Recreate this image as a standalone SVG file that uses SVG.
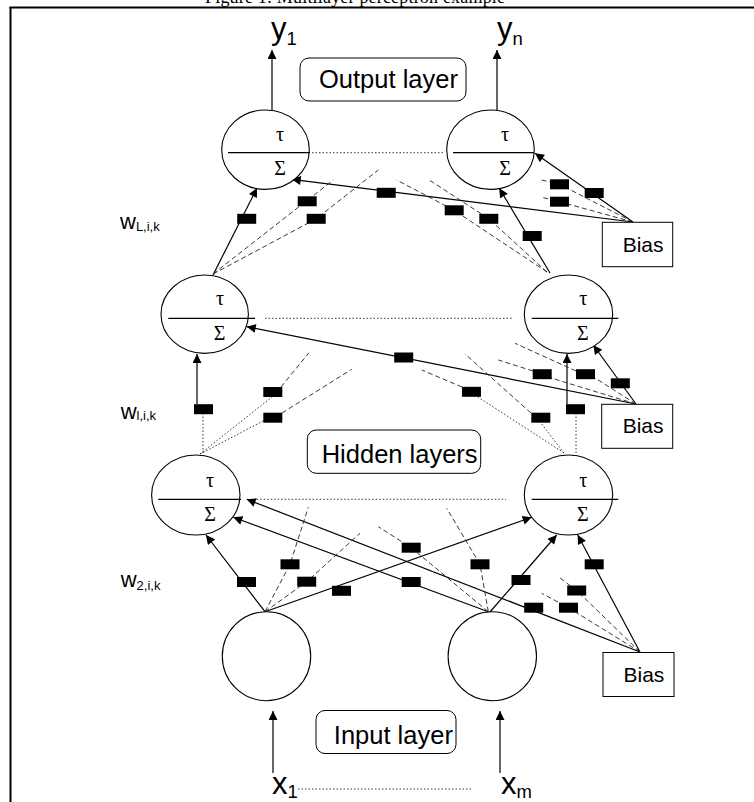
<svg xmlns="http://www.w3.org/2000/svg" width="754" height="802" viewBox="0 0 754 802">
<style>
.sol{stroke:#000;stroke-width:1.2;fill:none}
.dsh{stroke:#222;stroke-width:0.9;stroke-dasharray:5 3;fill:none}
.dot{stroke:#222;stroke-width:0.9;stroke-dasharray:1.5 2;fill:none}
.nd{stroke:#000;stroke-width:1.1;fill:#fff}
.ln{stroke:#000;stroke-width:1.2}
.wt{fill:#000}
.gr{font-family:"Liberation Serif","Times New Roman",serif;font-size:20px;text-anchor:middle;fill:#000}
.lb{font-family:"Liberation Sans",Arial,sans-serif;fill:#000}
.box{fill:#fff;stroke:#000;stroke-width:1}
</style>
<defs>
<marker id="ah" viewBox="0 0 10 10" refX="10" refY="5" markerWidth="11" markerHeight="9" markerUnits="userSpaceOnUse" orient="auto"><path d="M0,0 L10,5 L0,10 z" fill="#000"/></marker>
</defs>
<rect width="754" height="802" fill="#fff"/>
<text x="205" y="2.5" font-family="Liberation Serif,serif" font-size="18" textLength="300" fill="#000">Figure 1: Multilayer perceptron example</text>
<g id="frame" stroke="#000" stroke-width="2">
<line x1="9.5" y1="7.5" x2="754" y2="7.5"/>
<line x1="10.5" y1="7" x2="10.5" y2="802"/>
</g>

<g id="connectors">
<!-- top -->
<line class="sol" x1="272" y1="110" x2="272" y2="50" marker-end="url(#ah)"/>
<line class="sol" x1="497" y1="110" x2="497" y2="50" marker-end="url(#ah)"/>
<line class="sol" x1="213" y1="275" x2="257" y2="188" marker-end="url(#ah)"/>
<line class="sol" x1="550" y1="273" x2="499.3" y2="188.3" marker-end="url(#ah)"/>
<line class="sol" x1="633" y1="222" x2="291.7" y2="179.3" marker-end="url(#ah)"/>
<line class="sol" x1="633" y1="222" x2="535" y2="153.3" marker-end="url(#ah)"/>
<line class="dsh" x1="213" y1="274" x2="333.3" y2="180"/>
<polyline class="dsh" points="213,274 316.2,218.8 378.3,170"/>
<polyline class="dsh" points="547,272 454.2,210.3 396.7,180"/>
<polyline class="dsh" points="547,272 488.8,218.8 429.3,180"/>
<polyline class="dsh" points="633,222 559.5,184.3 541.7,180"/>
<polyline class="dsh" points="633,222 559.5,201.7 541.7,197.3"/>
<line class="dot" x1="312" y1="152.7" x2="443" y2="152.7"/>
<!-- middle -->
<line class="dot" x1="203" y1="453" x2="203" y2="414"/>
<line class="sol" x1="197" y1="404" x2="197" y2="354" marker-end="url(#ah)"/>
<line class="dot" x1="576" y1="453" x2="576" y2="414"/>
<line class="sol" x1="567" y1="404" x2="567" y2="354" marker-end="url(#ah)"/>
<line class="sol" x1="636" y1="404" x2="246.7" y2="326.7" marker-end="url(#ah)"/>
<line class="sol" x1="636" y1="404" x2="593.3" y2="345" marker-end="url(#ah)"/>
<line class="dot" x1="200" y1="454" x2="272" y2="397"/>
<line class="dsh" x1="281" y1="387" x2="309" y2="352.7"/>
<line class="dot" x1="200" y1="454" x2="265" y2="420"/>
<line class="dsh" x1="282" y1="413" x2="351.7" y2="369.3"/>
<line class="dot" x1="564" y1="453" x2="541" y2="423"/>
<line class="dsh" x1="531" y1="413" x2="465" y2="354"/>
<line class="dot" x1="564" y1="453" x2="478" y2="397"/>
<line class="dsh" x1="462" y1="387" x2="421.7" y2="370"/>
<line class="dsh" x1="636" y1="404" x2="551" y2="378"/>
<line class="dsh" x1="533" y1="371" x2="498.3" y2="360"/>
<line class="dsh" x1="636" y1="404" x2="595" y2="378"/>
<line class="dsh" x1="576" y1="371" x2="515" y2="343.3"/>
<line class="dot" x1="265" y1="318.3" x2="513" y2="318.3"/>
<!-- bottom -->
<line class="sol" x1="265" y1="611.7" x2="206" y2="535" marker-end="url(#ah)"/>
<line class="sol" x1="265" y1="611.7" x2="531.7" y2="517.3" marker-end="url(#ah)"/>
<line class="sol" x1="490" y1="612" x2="556.7" y2="535" marker-end="url(#ah)"/>
<line class="sol" x1="488.3" y1="611.7" x2="233.3" y2="517.3" marker-end="url(#ah)"/>
<line class="sol" x1="640" y1="652" x2="246.7" y2="499.3" marker-end="url(#ah)"/>
<line class="sol" x1="640" y1="652" x2="577.7" y2="535" marker-end="url(#ah)"/>
<polyline class="dsh" points="265,611.7 290,564.3 308.3,507.3"/>
<polyline class="dsh" points="265,611.7 306.7,581.7 360,533.3"/>
<polyline class="dsh" points="488.3,611.7 480,564.3 446.7,508.3"/>
<polyline class="dsh" points="488.3,611.7 411.2,547.7 378.3,526.7"/>
<polyline class="dsh" points="640,652 576.7,590.5 558.3,576.7"/>
<polyline class="dsh" points="640,652 568.5,607.7 541.7,593.3"/>
<line class="dot" x1="256.7" y1="499.3" x2="506" y2="499.3"/>
<line class="sol" x1="273" y1="773" x2="273" y2="711" marker-end="url(#ah)"/>
<line class="sol" x1="500" y1="773" x2="500" y2="711" marker-end="url(#ah)"/>
<line class="dot" x1="298" y1="789" x2="471" y2="789"/>
</g>

<g id="weights" class="wt">
<rect x="237.2" y="213.8" width="19" height="10"/>
<rect x="297.7" y="196.3" width="19" height="10"/>
<rect x="306.7" y="213.8" width="19" height="10"/>
<rect x="376.7" y="187.8" width="19" height="10"/>
<rect x="444.7" y="205.3" width="19" height="10"/>
<rect x="479.3" y="213.8" width="19" height="10"/>
<rect x="522.7" y="231" width="19" height="10"/>
<rect x="550" y="179.3" width="19" height="10"/>
<rect x="550" y="196.7" width="19" height="10"/>
<rect x="584.7" y="188" width="19" height="10"/>

<rect x="194" y="404.2" width="19" height="10"/>
<rect x="263.3" y="387" width="19" height="10"/>
<rect x="263.3" y="412.7" width="19" height="10"/>
<rect x="394.2" y="352.5" width="19" height="10"/>
<rect x="462" y="386.8" width="19" height="10"/>
<rect x="532.7" y="369.2" width="19" height="10"/>
<rect x="576" y="369.2" width="19" height="10"/>
<rect x="610.8" y="378.3" width="19" height="10"/>
<rect x="531.3" y="412.7" width="19" height="10"/>
<rect x="566" y="404.2" width="19" height="10"/>

<rect x="237" y="577" width="19" height="10"/>
<rect x="280.5" y="559.3" width="19" height="10"/>
<rect x="297.2" y="576.7" width="19" height="10"/>
<rect x="332" y="585.8" width="19" height="10"/>
<rect x="401.7" y="542.7" width="19" height="10"/>
<rect x="401.7" y="577" width="19" height="10"/>
<rect x="470.5" y="559.3" width="19" height="10"/>
<rect x="511.5" y="575" width="19" height="10"/>
<rect x="524.2" y="602.7" width="19" height="10"/>
<rect x="559" y="602.7" width="19" height="10"/>
<rect x="567.2" y="585.5" width="19" height="10"/>
<rect x="584.7" y="559.3" width="19" height="10"/>
</g>

<g id="out-left">
<ellipse class="nd" cx="265.5" cy="149.7" rx="43.8" ry="39.7"/>
<line class="ln" x1="228" y1="152.7" x2="310" y2="152.7"/>
<text class="gr" x="280" y="140.7">τ</text>
<text class="gr" x="280" y="175">Σ</text>
</g>
<g id="out-right">
<ellipse class="nd" cx="490.5" cy="149.7" rx="43.8" ry="39.7"/>
<line class="ln" x1="453" y1="152.7" x2="534" y2="152.7"/>
<text class="gr" x="505" y="140.7">τ</text>
<text class="gr" x="505" y="175">Σ</text>
</g>
<g id="hid-top-left">
<ellipse class="nd" cx="204.7" cy="314.2" rx="43.7" ry="39.2"/>
<line class="ln" x1="168.3" y1="318.3" x2="255" y2="318.3"/>
<text class="gr" x="220" y="305">τ</text>
<text class="gr" x="219.5" y="340">Σ</text>
</g>
<g id="hid-top-right">
<ellipse class="nd" cx="568.5" cy="314.2" rx="44.2" ry="39.2"/>
<line class="ln" x1="531.7" y1="318.3" x2="618.3" y2="318.3"/>
<text class="gr" x="583.3" y="305">τ</text>
<text class="gr" x="582.7" y="340">Σ</text>
</g>
<g id="hid-bot-left">
<ellipse class="nd" cx="195.8" cy="495" rx="44.2" ry="40"/>
<line class="ln" x1="158.3" y1="499.3" x2="241" y2="499.3"/>
<text class="gr" x="210" y="486.7">τ</text>
<text class="gr" x="210" y="520.7">Σ</text>
</g>
<g id="hid-bot-right">
<ellipse class="nd" cx="568.5" cy="495" rx="44.2" ry="40"/>
<line class="ln" x1="531.7" y1="499.3" x2="618.3" y2="499.3"/>
<text class="gr" x="583.3" y="486.7">τ</text>
<text class="gr" x="582.7" y="520.7">Σ</text>
</g>
<g id="in-left">
<ellipse class="nd" cx="266.5" cy="656.2" rx="44.2" ry="44.5"/>
</g>
<g id="in-right">
<ellipse class="nd" cx="492.3" cy="656.2" rx="44.2" ry="44.5"/>
</g>

<g id="bias1">
<rect class="box" x="602.3" y="222.3" width="70.4" height="44.4"/>
<text class="lb" x="622.7" y="251.7" font-size="21">Bias</text>
</g>
<g id="bias2">
<rect class="box" x="601.7" y="404.3" width="71" height="44"/>
<text class="lb" x="622.7" y="433.3" font-size="21">Bias</text>
</g>
<g id="bias3">
<rect class="box" x="603" y="652.5" width="71" height="44"/>
<text class="lb" x="623.5" y="681.8" font-size="21">Bias</text>
</g>

<g id="output-label">
<rect class="box" x="300" y="58" width="166" height="43" rx="9"/>
<text class="lb" x="319" y="88" font-size="25.5">Output layer</text>
</g>
<g id="hidden-label">
<rect class="box" x="307.3" y="430" width="173.4" height="43.3" rx="9"/>
<text class="lb" x="321.7" y="462.5" font-size="25.5">Hidden layers</text>
</g>
<g id="input-label">
<rect class="box" x="316" y="710.5" width="140" height="43" rx="9"/>
<text class="lb" x="333.8" y="744" font-size="25.5">Input layer</text>
</g>

<g id="y1"><text class="lb" x="271" y="38.5" font-size="31">y<tspan font-size="18.5" dy="6">1</tspan></text></g>
<g id="yn"><text class="lb" x="497" y="38.5" font-size="31">y<tspan font-size="18.5" dy="6">n</tspan></text></g>
<g id="x1"><text class="lb" x="272" y="794" font-size="31">x<tspan font-size="18.5" dy="3.5">1</tspan></text></g>
<g id="xm"><text class="lb" x="501" y="794" font-size="31">x<tspan font-size="18.5" dy="3.5">m</tspan></text></g>
<g id="wL"><text class="lb" x="120" y="229.3" font-size="22">w<tspan font-size="13" dy="1.5">L,i,k</tspan></text></g>
<g id="wl"><text class="lb" x="120.7" y="418.5" font-size="22">w<tspan font-size="13" dy="1.5">l,i,k</tspan></text></g>
<g id="w2"><text class="lb" x="120.7" y="587" font-size="22">w<tspan font-size="13" dy="3">2,i,k</tspan></text></g>
</svg>
